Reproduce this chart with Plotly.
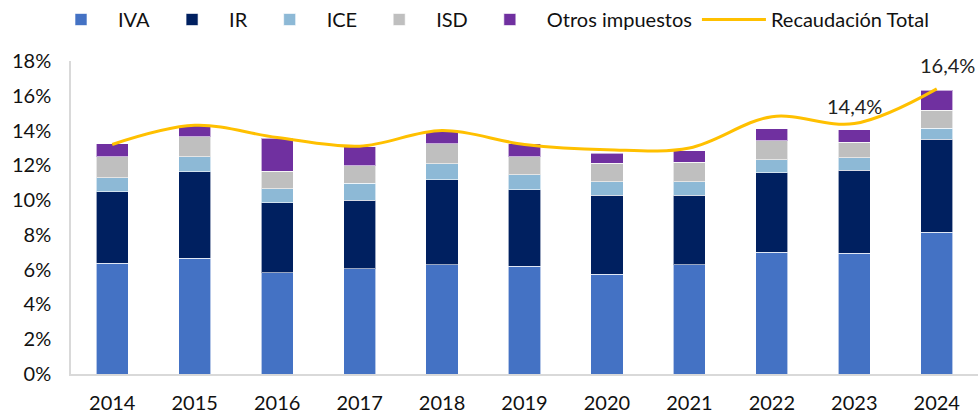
import plotly.graph_objects as go

years = ["2014", "2015", "2016", "2017", "2018", "2019", "2020", "2021", "2022", "2023", "2024"]
iva = [6.37, 6.67, 5.83, 6.04, 6.27, 6.21, 5.75, 6.27, 7.00, 6.94, 8.15]
ir = [4.11, 4.95, 4.02, 3.96, 4.90, 4.39, 4.54, 4.02, 4.58, 4.79, 5.36]
ice = [0.81, 0.86, 0.79, 0.97, 0.92, 0.86, 0.77, 0.77, 0.74, 0.71, 0.62]
isd = [1.21, 1.15, 1.02, 1.01, 1.15, 1.04, 1.06, 1.13, 1.08, 0.88, 1.05]
otros = [0.73, 0.65, 1.89, 1.09, 0.76, 0.73, 0.57, 0.65, 0.70, 0.73, 1.15]
total = [13.2, 14.3, 13.6, 13.1, 14.0, 13.2, 12.9, 13.0, 14.8, 14.4, 16.4]
labelled_years = ["2023", "2024"]
labelled_text = ["14,4%", "16,4%"]

series = [
    ("IVA", iva, "#4472C4"),
    ("IR", ir, "#002060"),
    ("ICE", ice, "#8DB9D6"),
    ("ISD", isd, "#BFBFBF"),
    ("Otros impuestos", otros, "#7030A0"),
]

font = "Lato, Carlito, Liberation Sans, sans-serif"
fig = go.Figure()
for name, vals, col in series:
    fig.add_trace(go.Bar(
        x=years, y=[v / 100 for v in vals], name=name,
        marker=dict(color=col, line=dict(color="rgba(255,255,255,0.6)", width=1)),
    ))
fig.add_trace(go.Scatter(
    x=years, y=[v / 100 for v in total], name="Recaudación Total",
    mode="lines", line=dict(color="#FFC000", width=3, shape="spline", smoothing=1.0),
))

shifts = {"2023": (0, 18), "2024": (11, 24)}
for yr, txt in zip(labelled_years, labelled_text):
    i = years.index(yr)
    xs, ys = shifts[yr]
    fig.add_annotation(x=i, y=total[i] / 100, text=txt, showarrow=False,
                       xshift=xs, yshift=ys,
                       font=dict(size=20, color="#222222", family=font))

fig.update_layout(
    barmode="stack",
    bargap=0.61,
    width=978, height=415,
    margin=dict(l=71, r=0, t=61, b=41, autoexpand=False),
    plot_bgcolor="white", paper_bgcolor="white",
    font=dict(family=font, size=20, color="#111111"),
    legend=dict(orientation="h", x=0.5, xanchor="center", xref="container",
                y=1.0, yanchor="top", yref="container",
                font=dict(size=20), traceorder="normal", itemwidth=64),
    xaxis=dict(type="category", showline=True, linecolor="#D9D9D9", linewidth=1.5, ticks="",
               tickfont=dict(size=20), automargin=False, ticklabelstandoff=10),
    yaxis=dict(range=[0, 0.18], dtick=0.02, tickformat=".0%", showgrid=False,
               zeroline=False, showline=True, linecolor="#D9D9D9", linewidth=1.5,
               ticks="", ticklabelstandoff=14,
               tickfont=dict(size=20), automargin=False),
)
fig.write_html("out.html", config={"displayModeBar": False},
               post_script="document.body.style.margin='0';document.body.style.overflow='hidden';")
